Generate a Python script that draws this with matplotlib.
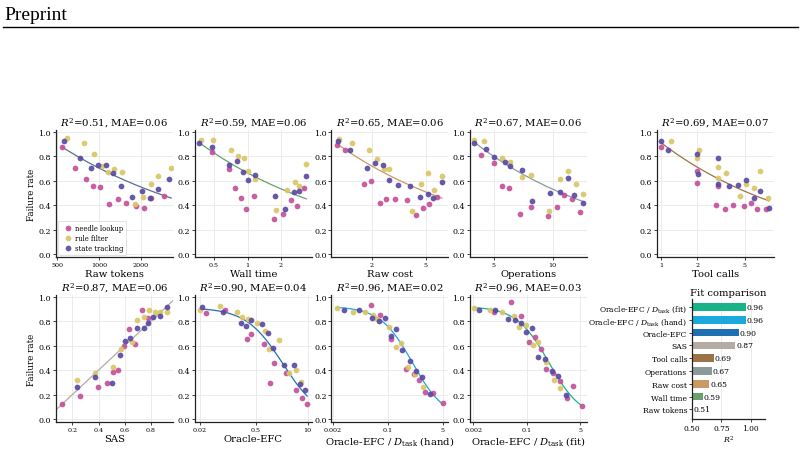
import numpy as np
import matplotlib
matplotlib.use("Agg")
import matplotlib.pyplot as plt
from matplotlib.lines import Line2D
from matplotlib.ticker import FixedLocator, FixedFormatter, NullLocator

plt.rcParams["font.family"] = ["DejaVu Serif"]
plt.rcParams["mathtext.fontset"] = "dejavuserif"

TASKS = ["needle lookup", "rule filter", "state tracking"]
TASK_COLORS = ["#c4519b", "#d9c667", "#5a4aa3"]

# (x, failure rate) per task
tok_needle = [(544, .878), (674, .707), (803, .611), (909, .557), (1017, .546), (1184, .408), (1363, .451),
              (1569, .416), (1847, .389), (2114, .372), (2367, .454), (2916, .473)]
tok_rule = [(586, .946), (776, .910), (924, .821), (1046, .717), (1164, .668), (1274, .696), (1458, .668),
            (1806, .410), (2078, .465), (2354, .571), (2648, .636), (3300, .701)]
tok_state = [(560, .921), (726, .788), (869, .707), (983, .728), (1125, .728), (1259, .660), (1442, .552),
             (1727, .470), (2021, .519), (2312, .457), (2633, .530), (3205, .611)]

wall_needle = [(0.477, .832), (0.679, .696), (0.764, .538), (0.877, .459), (0.973, .370), (1.148, .473),
               (1.739, .288), (2.096, .323), (2.475, .440), (2.764, .389), (3.217, .538)]
wall_rule = [(0.382, .932), (0.490, .932), (0.713, .851), (0.818, .804), (0.920, .788), (1.0, .682),
             (1.156, .614), (1.812, .356), (2.262, .527), (2.651, .592), (2.884, .557), (3.374, .734)]
wall_state = [(0.369, .910), (0.477, .872), (0.688, .731), (0.796, .758), (0.908, .674), (1.0, .603),
              (1.164, .647), (1.764, .473), (2.184, .364), (2.596, .508), (2.9, .516), (3.374, .636)]

cost_needle = [(1.096, .894), (1.268, .853), (1.758, .571), (1.966, .598), (2.30, .416), (2.56, .451),
               (2.96, .451), (3.65, .438), (4.22, .321), (4.80, .375), (5.31, .408), (6.12, .470)]
cost_rule = [(1.128, .940), (1.43, .910), (1.90, .848), (2.18, .777), (2.46, .693), (2.68, .693),
             (3.97, .353), (4.62, .573), (5.22, .666), (5.78, .527), (6.62, .641)]
cost_state = [(1.11, .921), (1.37, .851), (1.83, .707), (2.09, .742), (2.42, .731), (2.68, .601),
              (3.12, .565), (3.86, .552), (4.54, .470), (5.17, .492), (5.66, .457), (6.62, .590)]

ops_needle = [(4.31, .813), (5.0, .742), (5.48, .557), (6.01, .543), (6.81, .323), (7.80, .386),
              (9.53, .307), (10.57, .386), (11.5, .484), (12.56, .451), (13.8, .342)]
ops_rule = [(3.98, .932), (4.44, .924), (5.48, .788), (6.08, .755), (7.0, .633), (7.78, .649),
            (9.6, .353), (10.97, .617), (11.96, .679), (13.1, .573), (14.3, .489)]
ops_state = [(3.96, .910), (4.54, .861), (5.0, .793), (5.73, .755), (6.06, .720), (7.0, .685),
             (7.86, .435), (9.65, .495), (10.9, .505), (12.0, .622), (12.9, .481), (14.3, .418)]

tool_needle = [(1.0, .875), (1.98, .679), (2.0, .582), (2.84, .397), (2.99, .554), (3.43, .370),
               (4.0, .397), (4.95, .389), (5.63, .418), (6.25, .370), (7.48, .370)]
tool_rule = [(1.206, .927), (1.99, .785), (2.07, .853), (2.99, .709), (2.99, .620), (3.45, .666),
             (4.52, .473), (5.09, .573), (5.97, .543), (6.74, .679), (7.82, .457)]
tool_state = [(1.0, .921), (1.145, .848), (2.0, .815), (2.04, .658), (2.99, .788), (2.99, .576),
              (3.66, .552), (4.41, .565), (5.09, .601), (5.97, .457), (6.62, .519), (7.92, .375)]

sas_needle = [(0.12, .125), (0.2575, .190), (0.3975, .261), (0.4675, .296), (0.5075, .386), (0.545, .402),
              (0.595, .598), (0.6325, .734), (0.68, .611), (0.7325, .889), (0.78, .826)]
sas_rule = [(0.2375, .318), (0.375, .380), (0.5075, .427), (0.57, .573), (0.6525, .628), (0.695, .810),
            (0.7425, .832), (0.785, .889), (0.83, .872), (0.87, .875), (0.9225, .875)]
sas_state = [(0.235, .261), (0.37, .342), (0.50, .296), (0.5625, .522), (0.605, .641), (0.64, .663),
             (0.695, .747), (0.7425, .747), (0.775, .785), (0.8175, .832), (0.865, .842), (0.92, .913)]

efc_needle = [(0.0284, .870), (0.085, .894), (0.297, .658), (0.389, .693), (0.79, .617), (1.145, .293),
              (1.47, .457), (2.88, .380), (5.05, .239), (7.14, .171), (9.7, .125)]
efc_rule = [(0.020, .889), (0.064, .921), (0.173, .875), (0.232, .834), (0.321, .815), (0.53, .788),
            (0.84, .720), (1.10, .576), (1.93, .644), (3.5, .380), (5.2, .402), (6.7, .299)]
efc_state = [(0.0234, .913), (0.077, .878), (0.218, .788), (0.286, .761), (0.38, .807), (0.72, .774),
             (1.04, .707), (1.34, .584), (2.52, .440), (4.58, .440), (6.5, .285), (8.8, .236)]

hand_needle = [(0.031, .935), (0.057, .848), (0.1206, .652), (0.363, .408), (0.652, .367), (0.927, .321),
               (1.45, .217), (2.53, .212), (5.0, .128)]
hand_rule = [(0.00265, .908), (0.00855, .875), (0.0194, .875), (0.0357, .848), (0.047, .818), (0.1047, .753),
             (0.175, .590), (0.255, .620), (0.417, .429), (0.713, .367), (1.23, .258)]
hand_state = [(0.00423, .891), (0.013, .891), (0.0317, .823), (0.0544, .799), (0.083, .823), (0.1206, .679),
              (0.184, .736), (0.280, .560), (0.469, .478), (0.75, .394), (1.17, .342), (2.09, .201)]

fitd_needle = [(0.0091, .875), (0.031, .954), (0.066, .842), (0.116, .633), (0.18, .668), (0.28, .576),
               (0.414, .408), (0.675, .372), (1.1, .3125), (1.89, .171), (2.94, .272), (5.5, .109)]
fitd_rule = [(0.00214, .905), (0.00675, .889), (0.0167, .875), (0.0394, .842), (0.058, .753), (0.095, .772),
             (0.163, .606), (0.219, .630), (0.414, .462), (0.71, .321), (1.1, .255)]
fitd_state = [(0.00295, .889), (0.0095, .889), (0.0247, .821), (0.0414, .807), (0.063, .785), (0.091, .715),
              (0.141, .747), (0.23, .505), (0.366, .489), (0.613, .389), (1.0, .353), (1.75, .198)]

# panel labels and scores
panel_names = ["Raw tokens", "Wall time", "Raw cost", "Operations", "Tool calls",
               "SAS", "Oracle-EFC", "Oracle-EFC / $D_{\\mathrm{task}}$ (hand)",
               "Oracle-EFC / $D_{\\mathrm{task}}$ (fit)"]
panel_r2 = ["0.51", "0.59", "0.65", "0.67", "0.69", "0.87", "0.90", "0.96", "0.96"]
panel_mae = ["0.06", "0.06", "0.06", "0.06", "0.07", "0.06", "0.04", "0.02", "0.03"]
panel_colors = ["#5e6d8c", "#6aa06b", "#c99a63", "#8b9a9a", "#9b7347",
                "#b4aba4", "#1f70b3", "#1ba8dc", "#19b389"]
panel_ticks = [[500, 1000, 2000], [0.5, 1, 2], [2, 5], [5, 10], [1, 2, 5],
               [0.2, 0.4, 0.6, 0.8], [0.02, 0.5, 10], [0.002, 0.1, 5], [0.002, 0.1, 5]]
panel_ticklabels = [["500", "1000", "2000"], ["0.5", "1", "2"], ["2", "5"], ["5", "10"], ["1", "2", "5"],
                    ["0.2", "0.4", "0.6", "0.8"], ["0.02", "0.5", "10"], ["0.002", "0.1", "5"],
                    ["0.002", "0.1", "5"]]
panel_xlim = [(489, 3400), (0.337, 3.8), (1.0, 7.4), (3.78, 15.0), (0.914, 8.7),
              (0.075, 0.9675), (0.0152, 12.8), (0.00178, 7.6), (0.00156, 8.2)]
# fitted curves: ("pow", a, b) -> a*x^-b ; ("lin", slope, icpt) ; ("hill", top, x50, k)
panel_fits = [("pow", 8.32, 0.358), ("pow", 0.663, 0.317), ("pow", 0.933, 0.378),
              ("pow", 2.063, 0.59), ("pow", 0.908, 0.356), ("lin", 1.0, 0.0),
              ("hill", 0.91, 2.35, 0.95), ("hill", 0.92, 0.58, 0.87), ("hill", 0.92, 0.51, 0.84)]
panel_data = [(tok_needle, tok_rule, tok_state), (wall_needle, wall_rule, wall_state),
              (cost_needle, cost_rule, cost_state), (ops_needle, ops_rule, ops_state),
              (tool_needle, tool_rule, tool_state), (sas_needle, sas_rule, sas_state),
              (efc_needle, efc_rule, efc_state), (hand_needle, hand_rule, hand_state),
              (fitd_needle, fitd_rule, fitd_state)]

# summary bars
bar_labels = ["Oracle-EFC / $D_{\\mathrm{task}}$ (fit)", "Oracle-EFC / $D_{\\mathrm{task}}$ (hand)",
              "Oracle-EFC", "SAS", "Tool calls", "Operations", "Raw cost", "Wall time", "Raw tokens"]
bar_r2 = [0.957, 0.957, 0.897, 0.868, 0.688, 0.668, 0.648, 0.592, 0.510]
bar_colors = ["#19b389", "#1ba8dc", "#1f70b3", "#b4aba4", "#9b7347", "#8b9a9a", "#c99a63", "#6aa06b", "#5e6d8c"]


def fit_curve(fit, x):
    kind = fit[0]
    if kind == "pow":
        return fit[1] * x ** (-fit[2])
    if kind == "lin":
        return fit[1] * x + fit[2]
    return fit[1] / (1 + (x / fit[2]) ** fit[3])


def style_axes(ax):
    for s in ["top", "right"]:
        ax.spines[s].set_visible(False)
    for s in ["left", "bottom"]:
        ax.spines[s].set_color("#222222")
        ax.spines[s].set_linewidth(0.9)
    ax.tick_params(length=2, width=0.6, color="#222222", pad=1.5)
    ax.grid(True, color="#e8e8e8", lw=0.6)
    ax.set_axisbelow(True)


W, H = 804, 452
fig = plt.figure(figsize=(W / 100, H / 100), dpi=100)

# page header
fig.text(4 / W, 1 - 19.5 / H, "Preprint", family="Liberation Serif", fontsize=14, va="baseline")
fig.add_artist(Line2D([3 / W, 798 / W], [1 - 27.7 / H] * 2, color="black", lw=1.0))

col_left = [56, 195, 331.5, 470, 656.7]
row_bottom = [257.7, 422.7]
ax_w, ax_h = 117, 126.5

slots = [(0, 0), (0, 1), (0, 2), (0, 3), (0, 4), (1, 0), (1, 1), (1, 2), (1, 3)]
for i, (r, c) in enumerate(slots):
    ax = fig.add_axes([col_left[c] / W, 1 - row_bottom[r] / H, ax_w / W, ax_h / H])
    style_axes(ax)
    is_log = panel_names[i] != "SAS"
    if is_log:
        ax.set_xscale("log")
    for task, col, pts in zip(TASKS, TASK_COLORS, panel_data[i]):
        xs = [p[0] for p in pts]
        ys = [p[1] for p in pts]
        ax.scatter(xs, ys, s=17, color=col, lw=0, alpha=0.92, zorder=3, label=task)
    allx = [p[0] for grp in panel_data[i] for p in grp]
    if is_log:
        xx = np.logspace(np.log10(min(allx)), np.log10(max(allx)), 200)
    else:
        xx = np.linspace(*panel_xlim[i], 200)
    ax.plot(xx, fit_curve(panel_fits[i], xx), color=panel_colors[i], lw=0.9, zorder=2)
    ax.set_xlim(*panel_xlim[i])
    ax.set_ylim(-0.022, 1.012)
    ax.xaxis.set_major_locator(FixedLocator(panel_ticks[i]))
    ax.xaxis.set_major_formatter(FixedFormatter(panel_ticklabels[i]))
    ax.xaxis.set_minor_locator(NullLocator())
    ax.set_yticks([0, 0.2, 0.4, 0.6, 0.8, 1.0])
    ax.set_yticklabels(["0.0", "0.2", "0.4", "0.6", "0.8", "1.0"])
    ax.tick_params(axis="x", labelsize=4.6)
    ax.tick_params(axis="y", labelsize=5.7)
    ax.set_title("$R^2$=%s, MAE=%s" % (panel_r2[i], panel_mae[i]), fontsize=7.3, pad=3)
    ax.set_xlabel(panel_names[i], fontsize=7.2, labelpad=2)
    if c == 0:
        ax.set_ylabel("Failure rate", fontsize=6.3, labelpad=2)
    if i == 0:
        leg = ax.legend(loc="lower left", fontsize=4.9, frameon=True, handletextpad=0.1,
                        borderpad=0.4, labelspacing=0.3, markerscale=1.0, borderaxespad=0.3)
        leg.get_frame().set_edgecolor("#cccccc")
        leg.get_frame().set_linewidth(0.5)

# fit comparison bars
bx = fig.add_axes([692 / W, 1 - 420 / H, 73 / W, 120 / H])
style_axes(bx)
bx.grid(False)
bx.grid(True, axis="x", color="#e8e8e8", lw=0.6)
ypos = np.arange(len(bar_labels))
bx.barh(ypos, bar_r2, height=0.6, color=bar_colors, zorder=2)
for y, v in zip(ypos, bar_r2):
    bx.text(max(v, 0.5) + 0.006, y, "%.2f" % v, va="center", ha="left", fontsize=5.5)
bx.set_yticks(ypos)
bx.set_yticklabels(bar_labels, fontsize=5.5)
bx.set_xlim(0.5, 1.12)
bx.set_ylim(8.75, -0.62)
bx.set_xticks([0.5, 0.75, 1.0])
bx.set_xticklabels(["0.50", "0.75", "1.00"], fontsize=5.4)
bx.set_xlabel("$R^2$", fontsize=5.6, labelpad=1)
bx.set_title("Fit comparison", fontsize=7.2, pad=3)

fig.savefig("out.png", dpi=100)
